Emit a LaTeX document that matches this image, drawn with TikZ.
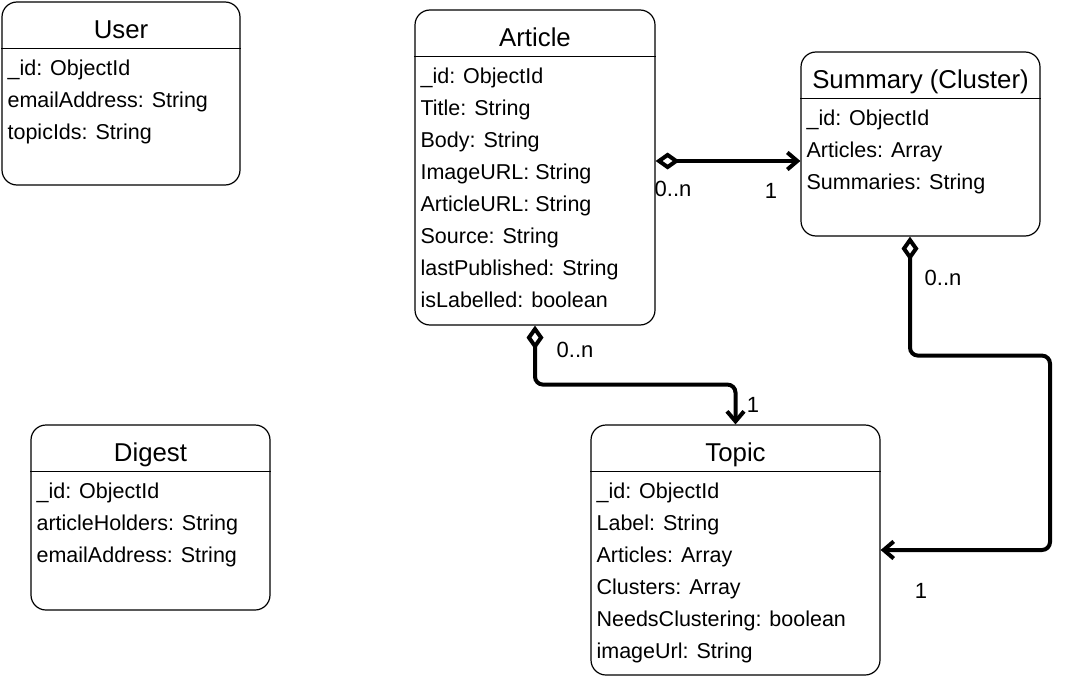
\documentclass[tikz,border=0pt]{standalone}
\usepackage{fontspec}
\setmainfont{Liberation Sans}
\usetikzlibrary{arrows.meta}
\usetikzlibrary{positioning}

\tikzset{
  entity/.style={draw, line width=1.2pt, rounded corners=15pt, inner sep=0pt},
  title/.style={anchor=base, inner sep=0pt, font=\fontsize{25.8}{30}\selectfont},
  attr/.style={anchor=base west, inner sep=0pt, font=\fontsize{21.5}{26}\selectfont},
  mult/.style={inner sep=0pt, font=\fontsize{22}{26}\selectfont},
  link/.style={line width=4pt, rounded corners=8pt,
    arrows={Diamond[open,length=24pt,width=17pt]-Straight Barb[length=10pt,width=17pt]}},
}

\begin{document}
\begin{tikzpicture}[x=1pt, y=-1pt]
    \useasboundingbox (0,0) rectangle (1071,677);

    % entities
    \node (user) [entity, minimum width=238pt, minimum height=183pt] at (121,93.5) {};
    \node (article) [entity, minimum width=240pt, minimum height=315pt] at (535,167.5) {};
    \node (summary) [entity, minimum width=239pt, minimum height=184pt] at (920.5,144) {};
    \node (digest) [entity, minimum width=239pt, minimum height=185pt] at (150.5,517.5) {};
    \node (topic) [entity, minimum width=289pt, minimum height=250pt] at (735.5,550) {};

    \draw [line width=1.2pt] ([yshift=-47pt]user.north west) -- ([yshift=-47pt]user.north east);
    \draw [line width=1.2pt] ([yshift=-47pt]article.north west) -- ([yshift=-47pt]article.north east);
    \draw [line width=1.2pt] ([yshift=-47pt]summary.north west) -- ([yshift=-47pt]summary.north east);
    \draw [line width=1.2pt] ([yshift=-47pt]digest.north west) -- ([yshift=-47pt]digest.north east);
    \draw [line width=1.2pt] ([yshift=-47pt]topic.north west) -- ([yshift=-47pt]topic.north east);

    \node (usertitle) [title] at ([yshift=-37.5pt]user.north) {User};
    \node (articletitle) [title] at ([yshift=-37.5pt]article.north) {Article};
    \node (summarytitle) [title] at ([yshift=-37.5pt]summary.north) {Summary (Cluster)};
    \node (digesttitle) [title] at ([yshift=-37.5pt]digest.north) {Digest};
    \node (topictitle) [title] at ([yshift=-37.5pt]topic.north) {Topic};

    % fields
    \node (u1) [attr] at ([xshift=6pt, yshift=-74.5pt]user.north west) {\_id: ObjectId};
    \node (u2) [attr, below=32pt of u1.base west, anchor=base west] {emailAddress: String};
    \node (u3) [attr, below=32pt of u2.base west, anchor=base west] {topicIds: String};

    \node (a1) [attr] at ([xshift=6pt, yshift=-74.5pt]article.north west) {\_id: ObjectId};
    \node (a2) [attr, below=32pt of a1.base west, anchor=base west] {Title: String};
    \node (a3) [attr, below=32pt of a2.base west, anchor=base west] {Body: String};
    \node (a4) [attr, below=32pt of a3.base west, anchor=base west] {ImageURL: String};
    \node (a5) [attr, below=32pt of a4.base west, anchor=base west] {ArticleURL: String};
    \node (a6) [attr, below=32pt of a5.base west, anchor=base west] {Source: String};
    \node (a7) [attr, below=32pt of a6.base west, anchor=base west] {lastPublished: String};
    \node (a8) [attr, below=32pt of a7.base west, anchor=base west] {isLabelled: boolean};

    \node (s1) [attr] at ([xshift=6pt, yshift=-74.5pt]summary.north west) {\_id: ObjectId};
    \node (s2) [attr, below=32pt of s1.base west, anchor=base west] {Articles: Array};
    \node (s3) [attr, below=32pt of s2.base west, anchor=base west] {Summaries: String};

    \node (d1) [attr] at ([xshift=6pt, yshift=-74.5pt]digest.north west) {\_id: ObjectId};
    \node (d2) [attr, below=32pt of d1.base west, anchor=base west] {articleHolders: String};
    \node (d3) [attr, below=32pt of d2.base west, anchor=base west] {emailAddress: String};

    \node (t1) [attr] at ([xshift=6pt, yshift=-74.5pt]topic.north west) {\_id: ObjectId};
    \node (t2) [attr, below=32pt of t1.base west, anchor=base west] {Label: String};
    \node (t3) [attr, below=32pt of t2.base west, anchor=base west] {Articles: Array};
    \node (t4) [attr, below=32pt of t3.base west, anchor=base west] {Clusters: Array};
    \node (t5) [attr, below=32pt of t4.base west, anchor=base west] {NeedsClustering: boolean};
    \node (t6) [attr, below=32pt of t5.base west, anchor=base west] {imageUrl: String};

    % relations
    \draw [link] ([yshift=6.5pt]article.east) -- ([yshift=6.5pt]article.east -| summary.west);
    \draw [link] (article.south) -- ++(0,59) -| (topic.north);
    \draw [link] ([xshift=-10.5pt]summary.south) -- ++(0,119) -- ++(140,0) |- (topic.east);

    \node (m1) [mult] at (673,189) {0..n};
    \node (m2) [mult] at (771,191) {1};
    \node (m3) [mult] at (575,350) {0..n};
    \node (m4) [mult] at (753,405) {1};
    \node (m5) [mult] at (943,278) {0..n};
    \node (m6) [mult] at (921,591) {1};
\end{tikzpicture}
\end{document}
